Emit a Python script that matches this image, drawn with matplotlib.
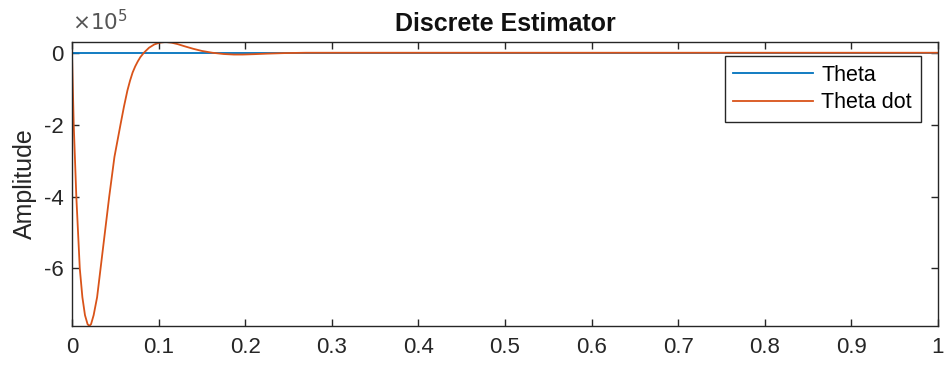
import matplotlib
matplotlib.use("Agg")
import matplotlib.pyplot as plt

plt.rcParams["font.family"] = ["Liberation Sans", "DejaVu Sans"]

# values (amplitude in units of 1e5)
t_theta = [0.0, 1.0]
theta = [0.0, 0.0]

t_dot = [0.0, 0.001, 0.002, 0.0035, 0.005, 0.007, 0.009, 0.012, 0.015, 0.018,
         0.020, 0.022, 0.025, 0.029, 0.033, 0.038, 0.043, 0.049, 0.056, 0.060,
         0.064, 0.067, 0.070, 0.073, 0.076, 0.079, 0.083, 0.089, 0.095, 0.101,
         0.108, 0.115, 0.122, 0.130, 0.140, 0.150, 0.162, 0.175, 0.187, 0.197,
         0.210, 0.225, 0.245, 0.27, 0.30, 0.40, 0.60, 0.80, 1.0]
theta_dot = [0.0, -1.0, -2.0, -3.0, -4.0, -5.0, -6.0, -6.8, -7.3, -7.55,
             -7.6, -7.55, -7.3, -6.8, -6.0, -5.0, -4.0, -2.9, -2.0, -1.5,
             -1.05, -0.78, -0.55, -0.38, -0.24, -0.12, 0.0, 0.14, 0.23, 0.28,
             0.30, 0.28, 0.24, 0.18, 0.11, 0.05, 0.0, -0.035, -0.05, -0.05,
             -0.04, -0.025, -0.01, 0.0, 0.0, 0.0, 0.0, 0.0, 0.0]

scale = 1e5
x_ticks = [0, 0.1, 0.2, 0.3, 0.4, 0.5, 0.6, 0.7, 0.8, 0.9, 1]
x_labels = ["0", "0.1", "0.2", "0.3", "0.4", "0.5", "0.6", "0.7", "0.8", "0.9", "1"]
y_ticks = [-6, -4, -2, 0]
y_labels = ["-6", "-4", "-2", "0"]

blue = "#0072BD"
orange = "#D95319"
axcol = "#262626"

fig = plt.figure(figsize=(9.51, 3.70), dpi=100)
ax = fig.add_axes([0.0757, 0.119, 0.9106, 0.7676])

ax.plot(t_theta, [v * scale for v in theta], color=blue, lw=1.3, label="Theta")
ax.plot(t_dot, [v * scale for v in theta_dot], color=orange, lw=1.3, label="Theta dot")

ax.set_xlim(0, 1)
ax.set_ylim(-7.6 * scale, 0.3 * scale)
ax.set_xticks(x_ticks)
ax.set_xticklabels(x_labels)
ax.set_yticks([v * scale for v in y_ticks])
ax.set_yticklabels(y_labels)

ax.tick_params(direction="in", top=True, right=True, length=5, width=1,
               colors=axcol, labelsize=16)
ax.tick_params(axis="x", pad=8)
ax.tick_params(axis="y", pad=6)
for s in ax.spines.values():
    s.set_color(axcol)
    s.set_linewidth(1)

ax.text(0.0, 1.025, r"$\times 10^5$", transform=ax.transAxes, fontsize=15.5,
        color="#555555", ha="left", va="bottom")

ax.set_title("Discrete Estimator", fontsize=18, fontweight="bold", pad=8,
             color="#111111")
ax.set_ylabel("Amplitude", fontsize=18, color=axcol)
ax.yaxis.set_label_coords(-0.04, 0.5)

leg = ax.legend(loc="upper right", bbox_to_anchor=(0.98, 0.95), fontsize=15.5,
                fancybox=False, framealpha=1, edgecolor=axcol,
                handlelength=3.7, handletextpad=0.4, borderpad=0.4,
                labelspacing=0.3, borderaxespad=0.0)
leg.get_frame().set_linewidth(1)

fig.savefig("out.png", dpi=100)
